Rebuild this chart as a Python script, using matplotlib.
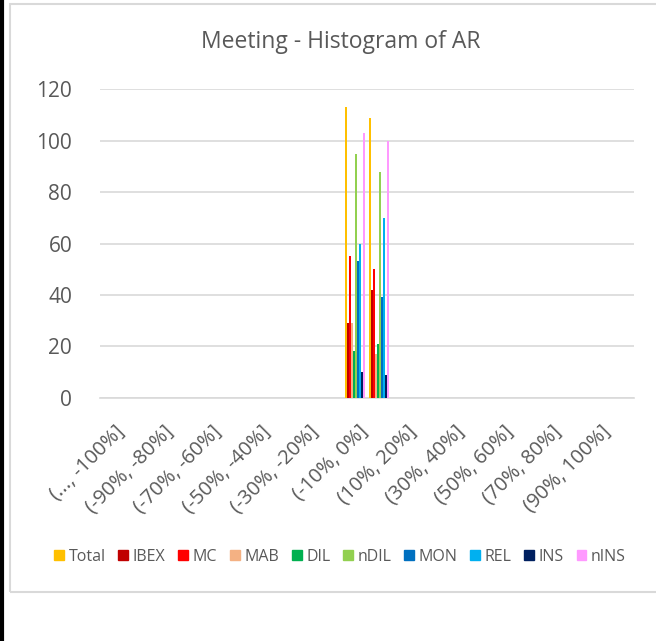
import numpy as np
import matplotlib.pyplot as plt
from matplotlib.patches import Rectangle
from matplotlib.lines import Line2D

bins = ['(..., -100%]'] + [f'({a}%, {a + 10}%]' for a in range(-100, 100, 10)] + ['(100%, ...)']

series = ['Total', 'IBEX', 'MC', 'MAB', 'DIL', 'nDIL', 'MON', 'REL', 'INS', 'nINS']
colors = ['#FFC000', '#C00000', '#FF0000', '#F4B183', '#00B050',
          '#92D050', '#0070C0', '#00B0F0', '#002060', '#FF99FF']

# counts in bins (-10%, 0%] and (0%, 10%], every other bin is empty
neg_bin = [113, 29, 55, 29, 18, 95, 53, 60, 10, 103]
pos_bin = [109, 42, 50, 17, 21, 88, 39, 70, 9, 100]

counts = {s: [0] * len(bins) for s in series}
for i, s in enumerate(series):
    counts[s][bins.index('(-10%, 0%]')] = neg_bin[i]
    counts[s][bins.index('(0%, 10%]')] = pos_bin[i]

plt.rcParams['font.family'] = ['Open Sans', 'DejaVu Sans']
txt = '#595959'

fig = plt.figure(figsize=(6.56, 6.41), dpi=100)
ax = fig.add_axes([100 / 656, 1 - 397.7 / 641, 534 / 656, (397.7 - 89.3) / 641])

x = np.arange(len(bins))
n = len(series)
w = 0.82 / n
for i, s in enumerate(series):
    ax.bar(x - 0.41 + w * (i + 0.5), counts[s], width=w, color=colors[i], zorder=3)

ax.set_xlim(-0.5, len(bins) - 0.5)
ax.set_ylim(0, 120)
ax.set_yticks(range(0, 121, 20))
ax.grid(axis='y', color='#D9D9D9', linewidth=1.2, zorder=0)
for sp in ['top', 'right', 'left']:
    ax.spines[sp].set_visible(False)
ax.spines['bottom'].set_color('#D9D9D9')
ax.spines['bottom'].set_linewidth(1.2)
ax.tick_params(length=0, colors=txt, labelsize=15)
ax.tick_params(axis='y', pad=20)

ax.set_xticks(x[::2] + 0.1)
ax.set_xticklabels(bins[::2], rotation=45, ha='right', rotation_mode='anchor',
                   fontsize=14.5, color=txt)
ax.tick_params(axis='x', pad=17)

fig.text(341 / 656, 1 - 42 / 641, 'Meeting - Histogram of AR', ha='center', va='center',
         fontsize=16.5, color=txt)

handles = [Rectangle((0, 0), 1, 1, color=c) for c in colors]
fig.legend(handles, series, loc='center', bbox_to_anchor=(340 / 656, 1 - 557 / 641),
           ncol=n, frameon=False, fontsize=11.5, labelcolor=txt, handlelength=0.6,
           handleheight=0.6, handletextpad=0.3, columnspacing=0.8)

# chart border and outer black line
fig.add_artist(Rectangle((10 / 656, 1 - 592 / 641), 660 / 656, 588 / 641,
                         transform=fig.transFigure, fill=False, edgecolor='#D9D9D9', lw=1.5))
fig.add_artist(Line2D([2 / 656, 2 / 656], [0, 1], transform=fig.transFigure,
                      color='black', lw=3))

fig.savefig('out.png', dpi=100)
